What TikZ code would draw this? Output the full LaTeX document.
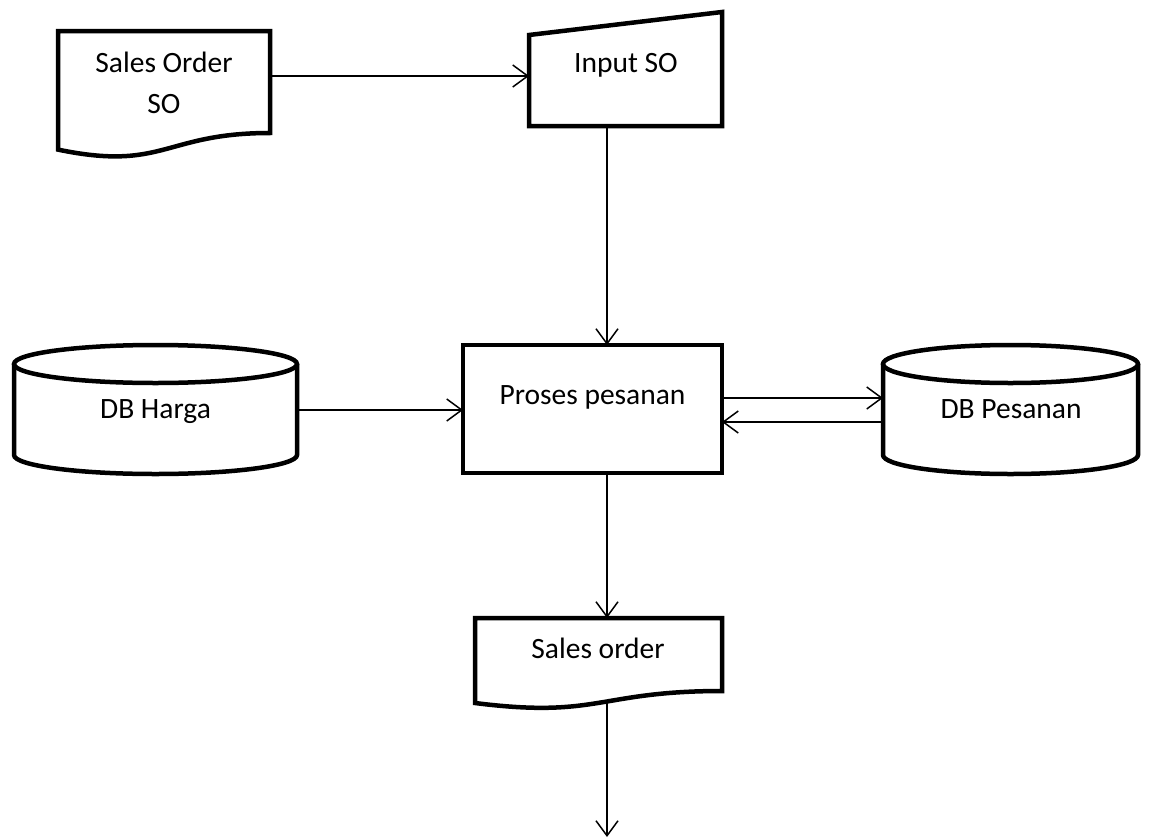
\documentclass[tikz,border=0pt]{standalone}
\usepackage{fontspec}
\setmainfont{Carlito}
\usetikzlibrary{arrows.meta}
\begin{document}
\begin{tikzpicture}[x=1pt,y=-1pt,
  outline/.style={line width=4.5pt, line join=miter},
  flow/.style={line width=1.5pt,
    -{Straight Barb[length=15pt,width=22pt,line width=1.5pt]}},
  lbl/.style={anchor=base, inner sep=0pt, align=center,
    font=\fontsize{29.5}{41}\selectfont}]
\useasboundingbox (0,0) rectangle (1149,838);

% --- document: Sales Order SO
\draw[outline] (58,31) -- (270,31) -- (270,133)
  .. controls (164,133) and (164,171.6) .. (58,149.6) -- cycle;
\node[lbl] (salesdoc) at (164,72) {Sales Order};
\node[lbl] (salesdocb) at (164,113) {SO};

% --- manual input: Input SO
\draw[outline] (529,35) -- (722,12) -- (722,126) -- (529,126) -- cycle;
\node[lbl] (inputso) at (626,72) {Input SO};

% --- process: Proses pesanan
\draw[outline] (463,345) rectangle (722,473);
\node[lbl] (proses) at (592.5,404) {Proses pesanan};

% --- database: DB Harga
\draw[outline] (14,364) -- (14,455)
  arc[start angle=180, end angle=360, x radius=141.5pt, y radius=19pt]
  -- (297,364);
\draw[outline] (155.5,364) ellipse[x radius=141.5pt, y radius=19pt];
\node[lbl] (dbharga) at (155.5,418) {DB Harga};

% --- database: DB Pesanan
\draw[outline] (883,364) -- (883,455)
  arc[start angle=180, end angle=360, x radius=127.5pt, y radius=19pt]
  -- (1138,364);
\draw[outline] (1010.5,364) ellipse[x radius=127.5pt, y radius=19pt];
\node[lbl] (dbpesanan) at (1011,418) {DB Pesanan};

% --- document: Sales order
\draw[outline] (475,618) -- (722,618) -- (722,691)
  .. controls (598.5,691) and (598.5,718.7) .. (475,703) -- cycle;
\node[lbl] (salesout) at (598,658) {Sales order};

% --- connection points on the outlines
\coordinate (salesdoc-e)  at (270,76);
\coordinate (inputso-w)   at (529,76);
\coordinate (inputso-s)   at (607,126);
\coordinate (proses-n)    at (607,345);
\coordinate (proses-s)    at (607,473);
\coordinate (proses-w)    at (463,410);
\coordinate (proses-e1)   at (722,398);
\coordinate (proses-e2)   at (722,422);
\coordinate (dbharga-e)   at (297,410);
\coordinate (dbpesanan-w1) at (883,398);
\coordinate (dbpesanan-w2) at (883,422);
\coordinate (salesout-n)  at (607,618);
\coordinate (salesout-s)  at (607,702);
\coordinate (exit)        at (607,837);

% --- flows
\draw[flow] (salesdoc-e) -- (inputso-w);
\draw[flow] (inputso-s) -- (proses-n);
\draw[flow] (dbharga-e) -- (proses-w);
\draw[flow] (proses-e1) -- (dbpesanan-w1);
\draw[flow] (dbpesanan-w2) -- (proses-e2);
\draw[flow] (proses-s) -- (salesout-n);
\draw[flow] (salesout-s) -- (exit);
\end{tikzpicture}
\end{document}
